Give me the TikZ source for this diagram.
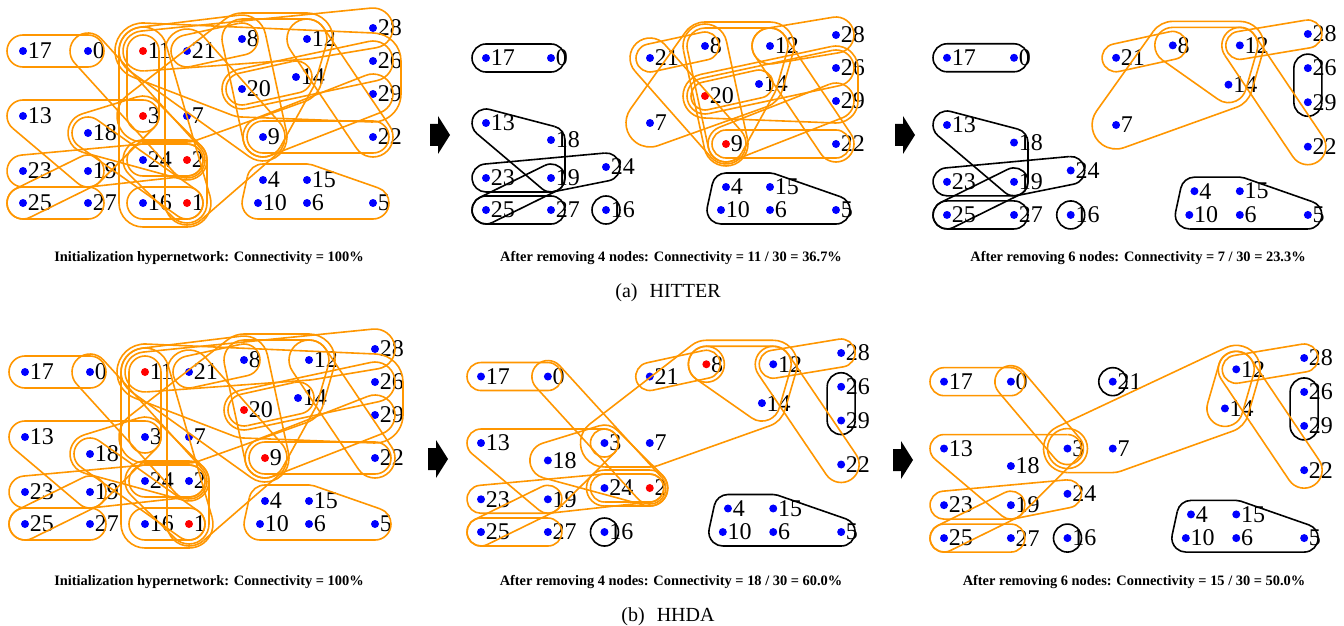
\documentclass[tikz,border=0pt]{standalone}
\usepackage{fontspec}
\setmainfont{Liberation Serif}
\usetikzlibrary{calc}

\definecolor{hyorange}{RGB}{255,150,0}

\makeatletter
\newcommand\ifmember[2]{%
	\edef\@tempa{\noexpand\in@{,#1,}{,#2,}}\@tempa
	\ifin@\expandafter\@firstoftwo\else\expandafter\@secondoftwo\fi}
\makeatother

\newcommand\nodelist{17/23/51,0/88/51,11/143/51,21/187/51,8/242/39,12/307/39,28/373/28,26/373/61,14/296/77,20/242/89,29/373/94,13/23/116,3/143/116,7/187/116,18/88/133,9/263/137,22/373/137,24/143/160,2/187/160,23/23/171,19/88/171,4/263/180,15/307/180,25/23/203,27/88/203,16/143/203,1/187/203,10/258/203,6/307/203,5/373/203}

\newcommand\drawnodes[6]{%
	\foreach \id/\nx/\ny in \nodelist {%
		\ifmember{\id}{#5}{}{%
			\ifmember{\id}{#6}{\def\dotcol{red}}{\def\dotcol{blue}}%
			\node[dot, fill=\dotcol, label={[lbl]right:\id}] (\id) at ({#1+(\nx-23)*#3},{#2+(\ny-28)*#4}) {};%
		}%
	}%
}

\newcommand\hstep[1]{%
	\ifx\ha\empty\else
		\path[#1] let \p1=($(\hb)-(\ha)$), \p2=($(\hc)-(\hb)$),
			\n1={atan2(\y1,\x1)}, \n2={atan2(\y2,\x2)},
			\n3={mod(\n2-(\n1)+360.5,360)-0.5} in
			($(\ha)+(\n1-90:\hr)$) -- ($(\hb)+(\n1-90:\hr)$)
			arc[start angle=\n1-90, delta angle=\n3, radius=\hr];
	\fi
	\xdef\ha{\hb}\xdef\hb{\hc}}

\newcommand\hedge[2][]{%
	\gdef\ha{}\gdef\hb{}%
	\foreach \hc [count=\hk] in {#2} {%
		\ifnum\hk=1 \xdef\hfirst{\hc}\fi
		\ifnum\hk=2 \xdef\hsecond{\hc}\fi
		\hstep{#1}}%
	\def\hc{\hfirst}\hstep{#1}%
	\def\hc{\hsecond}\hstep{#1}}

\newcommand\hring[2][]{\path[#1] (#2.center) circle[radius=\hr];}

\newcommand\initedges{%
	\hedge[oedge,hrad=8pt]{17,0}
	\hedge[oedge,hrad=9pt]{0,2}
	\hedge[oedge,hrad=8pt]{11,3}
	\hedge[oedge,hrad=8pt]{13,19,3}
	\hedge[oedge,hrad=8pt]{23,19,2,24}
	\hedge[oedge,hrad=8pt]{25,19}
	\hedge[oedge,hrad=8pt]{25,27}
	\hedge[oedge,hrad=8pt]{16,1}
	\hedge[oedge,hrad=8pt]{24,2}
	\hedge[oedge,hrad=10pt]{24,1,2}
	\hedge[oedge,hrad=12pt]{11,16,1}
	\hedge[oedge,hrad=8pt]{18,1}
	\hedge[oedge,hrad=10pt]{18,2,3}
	\hedge[oedge,hrad=12pt]{11,9,8}
	\hedge[oedge,hrad=10pt]{11,12,28}
	\hedge[oedge,hrad=14pt]{11,20,29,26}
	\hedge[oedge,hrad=8pt]{20,14}
	\hedge[oedge,hrad=10pt]{20,26}
	\hedge[oedge,hrad=10pt]{8,9,14,12}
	\hedge[oedge,hrad=13pt]{3,7,14,12,8}
	\hedge[oedge,hrad=10pt]{12,22}
	\hedge[oedge,hrad=8pt]{9,22}
	\hedge[oedge,hrad=10pt]{9,29}
	\hedge[oedge,hrad=8pt]{21,8}
	\hedge[oedge,hrad=11pt]{21,1,9}
	\hedge[oedge,hrad=8pt]{4,10,5,15}
}

\tikzset{
	hrad/.store in=\hr, hrad=7pt,
	dot/.style={circle, inner sep=0pt, minimum size=4pt, label distance=1.6pt},
	lbl/.style={inner sep=0pt, font=\fontsize{12}{12}\selectfont},
	oedge/.style={draw=hyorange, line width=0.8pt},
	bedge/.style={draw=black, line width=0.8pt},
	capt/.style={inner sep=0pt, font=\fontsize{7.2}{8}\selectfont\bfseries},
	subcapt/.style={inner sep=0pt, font=\fontsize{10}{12}\selectfont},
	blockarrow/.pic={\fill (-20,-11) -- (-12,-11) -- (-12,-19) -- (0,0) -- (-12,19) -- (-12,11) -- (-20,11) -- cycle;}
}

\begin{document}
\begin{tikzpicture}[x=0.5pt, y=-0.5pt]
\useasboundingbox (0,0) rectangle (1344,626);

\begin{scope}[name prefix=a-]
	\drawnodes{23}{28}{1}{1}{}{11,3,2,1}
	\initedges
\end{scope}

\begin{scope}[name prefix=b-]
	\drawnodes{486}{35}{1}{1}{11,3,2,1}{20,9}
	\hedge[bedge]{17,0}
	\hedge[bedge]{13,19,18}
	\hedge[bedge]{23,19,24}
	\hedge[bedge]{25,19}
	\hedge[bedge]{25,27}
	\hring[bedge]{16}
	\hedge[bedge]{4,10,5,15}
	\hedge[oedge]{20,14}
	\hedge[oedge,hrad=9pt]{20,26}
	\hedge[oedge,hrad=9pt]{8,9,14,12}
	\hedge[oedge,hrad=12pt]{7,14,12,8}
	\hedge[oedge,hrad=9pt]{12,22}
	\hedge[oedge]{9,22}
	\hedge[oedge,hrad=9pt]{9,29}
	\hedge[oedge]{21,8}
	\hedge[oedge,hrad=10pt]{21,9}
	\hedge[oedge,hrad=9pt]{12,28}
	\hedge[oedge,hrad=11pt]{20,29,26}
	\hedge[oedge,hrad=11pt]{8,9}
\end{scope}

\begin{scope}[name prefix=c-]
	\drawnodes{947}{34}{1.031}{1.034}{11,3,2,1,20,9}{}
	\hedge[bedge]{17,0}
	\hedge[bedge]{13,19,18}
	\hedge[bedge]{23,19,24}
	\hedge[bedge]{25,19}
	\hedge[bedge]{25,27}
	\hring[bedge]{16}
	\hedge[bedge]{26,29}
	\hedge[bedge]{4,10,5,15}
	\hedge[oedge,hrad=9pt]{8,14,12}
	\hedge[oedge,hrad=12pt]{7,14,12,8}
	\hedge[oedge,hrad=9pt]{12,22}
	\hedge[oedge]{21,8}
	\hedge[oedge]{12,28}
\end{scope}

\begin{scope}[name prefix=d-]
	\drawnodes{25}{349}{1}{1}{}{11,20,9,1}
	\initedges
\end{scope}

\begin{scope}[name prefix=e-]
	\drawnodes{481}{353}{1.029}{1.023}{11,20,9,1}{8,2}
	\hedge[bedge]{4,10,5,15}
	\hedge[bedge]{26,29}
	\hring[bedge]{16}
	\hedge[oedge]{17,0}
	\hedge[oedge,hrad=8pt]{0,2}
	\hring[oedge]{3}
	\hedge[oedge]{13,19,3}
	\hedge[oedge]{23,19,2,24}
	\hedge[oedge]{25,19}
	\hedge[oedge]{25,27}
	\hedge[oedge]{24,2}
	\hedge[oedge,hrad=9pt]{24,2}
	\hedge[oedge,hrad=9pt]{18,2,3}
	\hedge[oedge,hrad=9pt]{8,14,12}
	\hedge[oedge,hrad=12pt]{3,7,14,12,8}
	\hedge[oedge,hrad=9pt]{12,22}
	\hedge[oedge]{21,8}
	\hring[oedge,hrad=9pt]{8}
	\hedge[oedge]{12,28}
\end{scope}

\begin{scope}[name prefix=f-]
	\drawnodes{944}{358}{1.029}{1.029}{11,20,9,1,8,2}{}
	\hedge[bedge]{4,10,5,15}
	\hedge[bedge]{26,29}
	\hring[bedge]{16}
	\hring[bedge]{21}
	\hedge[oedge]{17,0}
	\hedge[oedge,hrad=8pt]{0,3}
	\hring[oedge,hrad=10pt]{3}
	\hedge[oedge]{13,19,3}
	\hedge[oedge]{23,19,24}
	\hedge[oedge]{25,19}
	\hedge[oedge]{25,27}
	\hedge[oedge,hrad=9pt]{12,14}
	\hedge[oedge,hrad=12pt]{3,7,14,12}
	\hedge[oedge,hrad=9pt]{12,22}
	\hedge[oedge]{12,28}
\end{scope}

\pic at (450,135) {blockarrow};
\pic at (915,135) {blockarrow};
\pic at (448,459) {blockarrow};
\pic at (913,460) {blockarrow};

\node[capt] (capa1) at (209,258) {Initialization hypernetwork: Connectivity = 100\%};
\node[capt] (capa2) at (671,258) {After removing 4 nodes: Connectivity = 11 / 30 = 36.7\%};
\node[capt] (capa3) at (1138,258) {After removing 6 nodes: Connectivity = 7 / 30 = 23.3\%};
\node[subcapt] (suba) at (668,293) {(a)\hspace{0.6em}HITTER};
\node[capt] (capb1) at (209,582) {Initialization hypernetwork: Connectivity = 100\%};
\node[capt] (capb2) at (671,582) {After removing 4 nodes: Connectivity = 18 / 30 = 60.0\%};
\node[capt] (capb3) at (1134,582) {After removing 6 nodes: Connectivity = 15 / 30 = 50.0\%};
\node[subcapt] (subb) at (668,617) {(b)\hspace{0.6em}HHDA};
\end{tikzpicture}
\end{document}
